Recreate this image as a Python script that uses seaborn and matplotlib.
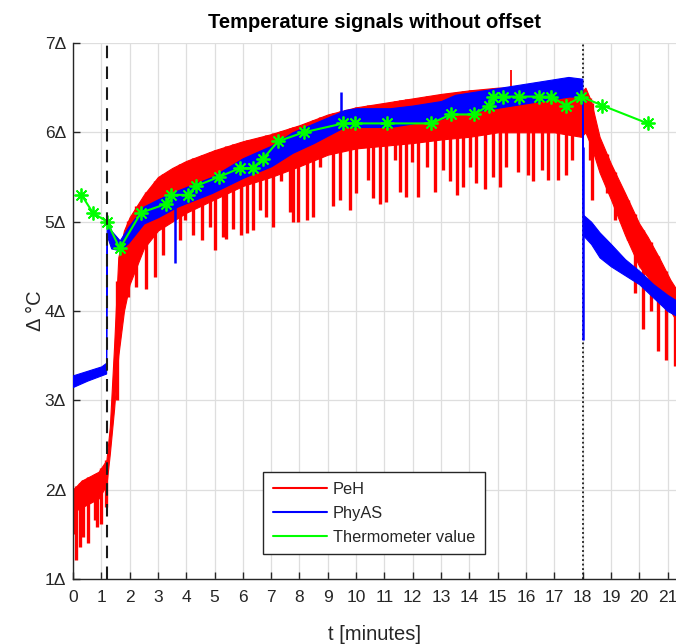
import numpy as np
import pandas as pd
import matplotlib
matplotlib.use("Agg")
import matplotlib.pyplot as plt
from matplotlib.lines import Line2D
import seaborn as sns

# ---------------- data ----------------
# PeH (red) dense band: time nodes, upper and lower envelope
peh_t = [0.0, 0.3, 0.6, 0.9, 1.18, 1.3, 1.45, 1.6, 1.8, 2.0, 2.5, 3.0, 3.5, 4.0, 5.0, 6.0, 7.0,
         8.0, 9.0, 10.0, 11.0, 12.0, 13.0, 14.0, 15.0, 16.0, 17.0, 17.95, 18.1, 18.3, 18.6,
         19.0, 19.5, 20.0, 20.3, 20.7, 21.1, 21.3]
peh_hi = [2.0, 2.1, 2.15, 2.2, 2.33, 2.7, 3.6, 4.6, 4.9, 5.05, 5.3, 5.5, 5.6, 5.68, 5.8, 5.9, 5.98,
          6.08, 6.2, 6.28, 6.33, 6.38, 6.43, 6.47, 6.5, 6.5, 6.47, 6.45, 6.5, 6.35, 5.95,
          5.65, 5.32, 4.98, 4.83, 4.6, 4.35, 4.25]
peh_lo = [1.75, 1.8, 1.85, 1.9, 2.05, 2.4, 2.9, 3.5, 4.0, 4.3, 4.7, 4.9, 5.0, 5.1, 5.25, 5.4, 5.5,
          5.62, 5.75, 5.82, 5.85, 5.88, 5.92, 5.95, 6.0, 6.0, 6.0, 5.95, 6.0, 5.85, 5.55,
          5.25, 4.85, 4.5, 4.38, 4.15, 4.0, 3.9]
# PeH downward spikes (time, bottom value)
peh_dip_t = [0.05, 0.12, 0.24, 0.35, 0.53, 0.77, 0.85, 1.0, 1.18, 1.56, 1.94, 2.24, 2.59, 2.89,
             3.18, 3.77, 3.95, 4.24, 4.54, 4.83, 5.01, 5.3, 5.42, 5.65, 5.95, 6.13, 6.36, 6.6,
             6.83, 7.07, 7.36, 7.66, 7.77, 7.95, 8.25, 8.48, 8.72, 9.19, 9.42, 9.78, 10.01,
             10.42, 10.6, 10.84, 11.07, 11.37, 11.54, 11.78, 11.96, 12.19, 12.49, 12.78, 13.07,
             13.31, 13.55, 13.78, 14.02, 14.25, 14.55, 14.84, 15.08, 15.31, 15.72, 16.08, 16.25,
             16.55, 16.78, 17.14, 17.43, 17.61, 17.84, 18.26, 18.32, 18.85, 19.14, 19.61, 19.85,
             20.15, 20.4, 20.67, 20.94, 21.26]
peh_dip_v = [1.5, 1.21, 1.36, 1.47, 1.4, 1.66, 1.58, 1.62, 1.81, 3.0, 4.16, 4.27, 4.25, 4.38,
             4.63, 4.79, 5.02, 4.85, 4.79, 4.94, 4.68, 4.83, 4.81, 4.92, 4.85, 4.87, 4.91, 5.13,
             5.05, 4.94, 5.45, 5.11, 5.0, 5.0, 5.02, 5.05, 5.61, 5.17, 5.24, 5.13, 5.32,
             5.47, 5.26, 5.2, 5.22, 5.69, 5.33, 5.28, 5.67, 5.28, 5.61, 5.33, 5.58,
             5.45, 5.3, 5.39, 5.61, 5.43, 5.37, 5.5, 5.39, 5.61, 5.56, 5.52, 5.45,
             5.58, 5.47, 5.47, 5.52, 5.69, 5.97, 5.69, 5.24, 5.32, 5.02, 4.79, 4.2,
             3.8, 4.0, 3.55, 3.45, 3.38]
peh_peak_t = [15.47]
peh_peak_v = [6.7]

# PhyAS (blue) band
phy_t = [0.0, 0.5, 1.0, 1.17, 1.19, 1.35, 1.65, 1.95, 2.5, 3.0, 3.7, 4.9, 6.0, 7.0, 7.75, 8.5,
         9.4, 9.6, 10.0, 11.2, 12.0, 13.0, 13.5, 14.5, 15.5, 16.5, 17.5, 17.99, 18.01, 18.3,
         18.6, 19.0, 19.5, 20.0, 20.5, 21.0, 21.3]
phy_lo = [3.15, 3.22, 3.28, 3.3, 4.85, 4.7, 4.68, 4.76, 4.98, 5.05, 5.17, 5.32, 5.49, 5.62, 5.77,
          5.88, 6.03, 6.06, 6.06, 6.06, 6.1, 6.15, 6.2, 6.25, 6.3, 6.35, 6.4, 6.4, 4.85, 4.75,
          4.6, 4.5, 4.4, 4.3, 4.15, 4.0, 3.95]
phy_hi = [3.28, 3.33, 3.38, 3.42, 5.05, 4.9, 4.79, 4.94, 5.17, 5.25, 5.35, 5.5, 5.71, 5.85, 6.0,
          6.1, 6.22, 6.25, 6.27, 6.27, 6.3, 6.35, 6.42, 6.47, 6.52, 6.57, 6.62, 6.6, 5.08, 5.0,
          4.88, 4.75, 4.58, 4.45, 4.3, 4.18, 4.12]
phy_spike_t = [3.6, 9.45, 18.0]
phy_spike_v = [4.54, 6.45, 3.68]

# Thermometer value (green)
thermo_t = [0.3, 0.7, 1.2, 1.65, 2.4, 3.3, 3.45, 4.05, 4.35, 5.15, 5.9, 6.35, 6.7, 7.25, 8.15,
            9.55, 9.95, 11.1, 12.65, 13.35, 14.15, 14.7, 14.85, 15.2, 15.75, 16.45, 16.9, 17.4,
            17.95, 18.7, 20.3]
thermo_v = [5.3, 5.1, 5.0, 4.7, 5.1, 5.2, 5.3, 5.3, 5.4, 5.5, 5.6, 5.6, 5.7, 5.9, 6.0,
            6.1, 6.1, 6.1, 6.1, 6.2, 6.2, 6.3, 6.4, 6.4, 6.4, 6.4, 6.4, 6.3,
            6.4, 6.3, 6.1]

event_lines = [1.2, 18.0]
x_ticks = list(range(0, 22))
y_ticks = [1, 2, 3, 4, 5, 6, 7]
y_ticklabels = [f"{v}\u0394" for v in y_ticks]
series_names = ["PeH", "PhyAS", "Thermometer value"]
series_colors = ["#FF0000", "#0000FF", "#00FF00"]

# ---------------- plot ----------------
sns.set_theme(style="whitegrid")
plt.rcParams["font.family"] = ["Liberation Sans", "DejaVu Sans"]

fig = plt.figure(figsize=(6.76, 6.44), dpi=100)
ax = fig.add_axes([73 / 676, 65 / 644, 603 / 676, 536 / 644])
ax.set_facecolor("white")

red, blue, green = series_colors

# PeH
ax.fill_between(peh_t, peh_lo, peh_hi, color=red, lw=0.8, edgecolor=red, zorder=2)
dip_top = np.interp(peh_dip_t, peh_t, peh_hi)
ax.vlines(peh_dip_t, peh_dip_v, dip_top, color=red, lw=2.4, zorder=2)
ax.vlines(peh_peak_t, np.interp(peh_peak_t, peh_t, peh_hi), peh_peak_v, color=red, lw=1.3, zorder=2)

# PhyAS
ax.fill_between(phy_t, phy_lo, phy_hi, color=blue, lw=0.8, edgecolor=blue, zorder=3)
sp_top = np.interp(phy_spike_t, phy_t, phy_hi)
sp_bot = np.interp(phy_spike_t, phy_t, phy_lo)
ax.vlines(phy_spike_t, np.minimum(phy_spike_v, sp_bot), np.maximum(phy_spike_v, sp_top),
          color=blue, lw=1.8, zorder=3)

# Thermometer
df_th = pd.DataFrame({"t": thermo_t, "v": thermo_v})
sns.lineplot(data=df_th, x="t", y="v", ax=ax, color=green, lw=1.5, marker=(8, 2, 0),
             markersize=10, markeredgecolor=green, markeredgewidth=1.3, zorder=5,
             sort=False, estimator=None)

# event lines
ax.axvline(event_lines[0], color="#1a1a1a", lw=1.5, ls=(0, (6, 4)), zorder=6)
ax.axvline(event_lines[1], color="#1a1a1a", lw=1.3, ls=(0, (1, 1.5)), zorder=1)

ax.set_xlim(0, 21.3)
ax.set_ylim(1, 7)
ax.set_xticks(x_ticks)
ax.set_yticks(y_ticks)
ax.set_yticklabels(y_ticklabels)
ax.grid(True, color="#dedede", lw=0.9)
ax.set_axisbelow(True)
for s in ["top", "right"]:
    ax.spines[s].set_visible(False)
for s in ["left", "bottom"]:
    ax.spines[s].set_color("#262626")
    ax.spines[s].set_linewidth(1.0)
ax.tick_params(direction="in", length=5, width=1.0, color="#262626",
               labelsize=12.5, labelcolor="#262626")
ax.tick_params(axis="x", bottom=True, pad=8)
ax.tick_params(axis="y", left=True, pad=5)

ax.set_xlabel("t [minutes]", fontsize=14.5, color="#262626", labelpad=14)
ax.set_ylabel("\u0394 \u00b0C", fontsize=14.5, color="#262626", labelpad=0)
ax.set_title("Temperature signals without offset", fontsize=14.5, fontweight="bold",
             color="black", pad=11)

handles = [Line2D([0], [0], color=c, lw=1.5) for c in series_colors]
leg = ax.legend(handles, series_names, loc="upper left", bbox_to_anchor=(0.315, 0.2),
                borderaxespad=0, fontsize=11.8, frameon=True, fancybox=False,
                edgecolor="#262626", framealpha=1, handlelength=3.3, borderpad=0.6,
                labelspacing=0.55, handletextpad=0.35)
leg.get_frame().set_linewidth(1.0)
for txt in leg.get_texts():
    txt.set_color("#262626")

fig.savefig("out.png", dpi=100)
